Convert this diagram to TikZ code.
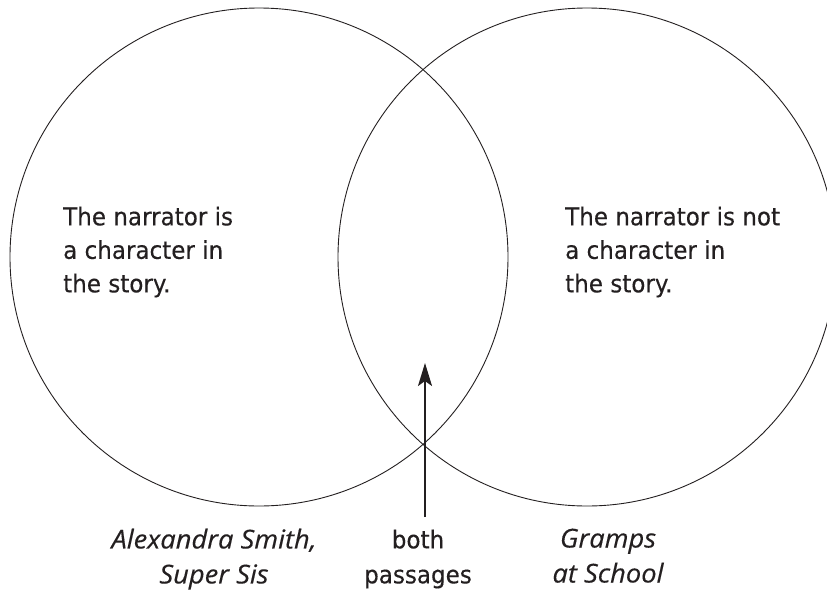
\documentclass[tikz,border=0pt]{standalone}
\usepackage{fontspec}
\setmainfont{DejaVu Sans}[FakeStretch=0.94,FakeBold=0.3]
\newfontfamily\labelit{Open Sans Italic}[FakeStretch=1.05,FakeBold=0.3]
\usetikzlibrary{arrows.meta}
\definecolor{ink}{HTML}{231F20}
\tikzset{
  ring/.style={draw=ink, line width=0.9pt},
  bodytext/.style={anchor=north west, inner sep=0pt, align=left, text=ink,
    font=\fontsize{24.5}{33.5}\selectfont},
  captext/.style={anchor=north, inner sep=0pt, align=center, text=ink,
    font=\fontsize{24.5}{35}\selectfont},
  capital/.style={captext, font=\labelit\fontsize{26}{35}\selectfont},
  pointer/.style={draw=ink, line width=1.8pt, -{Stealth[length=23pt,width=14pt,inset=5pt]}}
}
\begin{document}
\begin{tikzpicture}[x=1pt,y=-1pt]
\useasboundingbox (0,0) rectangle (827,592);
\begin{scope}
\clip (0,0) rectangle (827,592);
\draw[ring] (259,257) circle[radius=249];
\draw[ring] (587,257) circle[radius=249];
\end{scope}
\node[bodytext] (left) at (63,206.5) {The narrator is\\a character in\\the story.};
\node[bodytext] (right) at (565,206.5) {The narrator is not\\a character in\\the story.};
\coordinate (tail) at (425,517);
\coordinate (tip) at (425,363);
\draw[pointer] (tail) -- (tip);
\node[capital] (capA) at (214,528.5) {Alexandra Smith,\\Super Sis};
\node[captext] (capB) at (418,529.5) {both\\passages};
\node[capital] (capC) at (608,528.5) {Gramps\\at School};
\end{tikzpicture}
\end{document}
